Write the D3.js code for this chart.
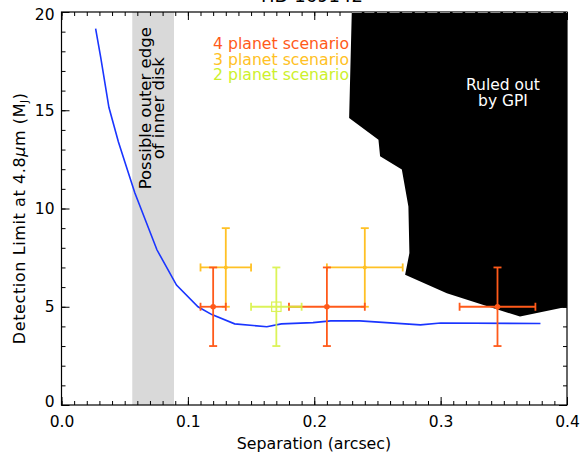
<!DOCTYPE html>
<html>
<head>
<meta charset="utf-8">
<script src="https://cdn.jsdelivr.net/npm/d3@7"></script>
<style>
  body { margin: 0; background: #fff; }
  svg text { font-family: "DejaVu Sans", "Liberation Sans", sans-serif; }
</style>
</head>
<body>
<svg id="chart" width="582" height="458"></svg>
<script>
// Detection limit curve (separation in arcsec, mass in M_J)
const limitSep  = [0.027, 0.031, 0.0375, 0.045, 0.0502, 0.058, 0.0755, 0.091, 0.108, 0.119, 0.137, 0.1625, 0.174, 0.199, 0.213, 0.236, 0.284, 0.300, 0.379];
const limitMass = [19.15, 17.7, 15.15, 13.4, 12.35, 10.8, 7.9, 6.1, 5.0, 4.6, 4.13, 3.98, 4.13, 4.19, 4.28, 4.28, 4.08, 4.17, 4.15];

// Region excluded by GPI (outline, clockwise from top-left)
const gpiSep  = [0.2297, 0.2276, 0.2508, 0.2521, 0.2693, 0.2745, 0.2753, 0.2719, 0.3049, 0.3628, 0.4, 0.4];
const gpiMass = [20, 14.6, 13.5, 12.66, 11.98, 10.1, 7.73, 6.63, 5.69, 4.5, 5.0, 20];

// Planet scenarios
const p4Sep = [0.12, 0.21, 0.345], p4SepErr = [0.01, 0.03, 0.03], p4Mass = [5, 5, 5], p4MassErr = [2, 2, 2];
const p3Sep = [0.13, 0.24],        p3SepErr = [0.02, 0.03],       p3Mass = [7, 7],    p3MassErr = [2, 2];
const p2Sep = [0.17],              p2SepErr = [0.02],             p2Mass = [5],       p2MassErr = [2];

// Inner disk outer edge band
const diskEdge = [0.056, 0.089];

const xTicks = [0, 0.1, 0.2, 0.3, 0.4];
const xTickLabels = ["0.0", "0.1", "0.2", "0.3", "0.4"];
const yTicks = [0, 5, 10, 15, 20];
const yTickLabels = ["0", "5", "10", "15", "20"];

const scenarioLabels = ["4 planet scenario", "3 planet scenario", "2 planet scenario"];
const scenarioColors = ["#ff5a1a", "#ffc125", "#cdf02c"];

const svg = d3.select("#chart");
const x = d3.scaleLinear().domain([0, 0.4]).range([61.5, 567]);
const y = d3.scaleLinear().domain([0, 20]).range([405, 12]);

// title (sits mostly above the canvas)
svg.append("text").attr("x", 312).attr("y", 1.5).attr("text-anchor", "middle")
  .attr("font-size", 18).attr("fill", "#000").text("HD 169142");

// shaded band
svg.append("rect")
  .attr("x", x(diskEdge[0])).attr("y", y(20))
  .attr("width", x(diskEdge[1]) - x(diskEdge[0])).attr("height", y(0) - y(20))
  .attr("fill", "#d9d9d9");

const bandText = svg.append("text")
  .attr("transform", `translate(${(x(diskEdge[0]) + x(diskEdge[1])) / 2 - 1},${y(15.1)}) rotate(-90)`)
  .attr("text-anchor", "middle").attr("font-size", 16.5).attr("fill", "#000");
bandText.append("tspan").attr("x", 0).attr("dy", -1).text("Possible outer edge");
bandText.append("tspan").attr("x", 0).attr("dy", 13).text("of inner disk");

// detection limit curve
svg.append("path")
  .datum(d3.zip(limitSep, limitMass))
  .attr("fill", "none").attr("stroke", "#1a35ff").attr("stroke-width", 1.6)
  .attr("d", d3.line().x(d => x(d[0])).y(d => y(d[1])));

// legend (partly covered by the excluded region)
svg.append("g").selectAll("text").data(scenarioLabels).join("text")
  .attr("x", 213).attr("y", (d, i) => 49 + i * 15.5)
  .attr("font-size", 15.7).attr("fill", (d, i) => scenarioColors[i])
  .text(d => d);

// excluded region
svg.append("path")
  .datum(d3.zip(gpiSep, gpiMass))
  .attr("fill", "#000")
  .attr("d", d3.line().x(d => x(d[0])).y(d => y(d[1])).curve(d3.curveLinearClosed));

const ruled = svg.append("text").attr("text-anchor", "middle").attr("font-size", 15.5).attr("fill", "#fff");
ruled.append("tspan").attr("x", 503).attr("y", 90).text("Ruled out");
ruled.append("tspan").attr("x", 503).attr("y", 106).text("by GPI");

// error bars
function errorBars(sep, sepErr, mass, massErr, color, marker, opacity) {
  const g = svg.append("g").attr("stroke", color).attr("stroke-width", 1.8).attr("fill", "none").attr("opacity", opacity);
  sep.forEach((s, i) => {
    const cx = x(s), cy = y(mass[i]);
    const x0 = x(s - sepErr[i]), x1 = x(s + sepErr[i]);
    const y0 = y(mass[i] - massErr[i]), y1 = y(mass[i] + massErr[i]);
    g.append("line").attr("x1", x0).attr("x2", x1).attr("y1", cy).attr("y2", cy);
    g.append("line").attr("x1", cx).attr("x2", cx).attr("y1", y0).attr("y2", y1);
    g.append("line").attr("x1", x0).attr("x2", x0).attr("y1", cy - 4).attr("y2", cy + 4);
    g.append("line").attr("x1", x1).attr("x2", x1).attr("y1", cy - 4).attr("y2", cy + 4);
    g.append("line").attr("x1", cx - 4).attr("x2", cx + 4).attr("y1", y0).attr("y2", y0);
    g.append("line").attr("x1", cx - 4).attr("x2", cx + 4).attr("y1", y1).attr("y2", y1);
    if (marker === "dot") {
      g.append("circle").attr("cx", cx).attr("cy", cy).attr("r", 2.8).attr("fill", color).attr("stroke", "none");
    } else if (marker === "small") {
      g.append("circle").attr("cx", cx).attr("cy", cy).attr("r", 2).attr("fill", color).attr("stroke", "none");
    } else {
      g.append("rect").attr("x", cx - 4.7).attr("y", cy - 4.7).attr("width", 9.4).attr("height", 9.4)
        .attr("stroke-width", 1.2);
    }
  });
}
errorBars(p3Sep, p3SepErr, p3Mass, p3MassErr, scenarioColors[1], "small", 1);
errorBars(p4Sep, p4SepErr, p4Mass, p4MassErr, scenarioColors[0], "dot", 1);
errorBars(p2Sep, p2SepErr, p2Mass, p2MassErr, "#d6f23c", "square", 0.85);

// axes: major and minor ticks pointing inward on all four sides
const h = y(0) - y(20), w = x(0.4) - x(0);
function addAxis(axis, tx, ty) {
  const g = svg.append("g").attr("transform", `translate(${tx},${ty})`).call(axis);
  g.select(".domain").remove();
  g.selectAll("text").attr("font-size", 15.5).attr("fill", "#000").attr("font-family", "DejaVu Sans, sans-serif");
  g.selectAll("line").attr("stroke", "#000");
  return g;
}
addAxis(d3.axisBottom(x).tickValues(x.ticks(40)).tickSize(-4).tickFormat(""), 0, y(0));
addAxis(d3.axisBottom(x).tickValues(xTicks).tickSize(-8).tickPadding(11).tickFormat((d, i) => xTickLabels[i]), 0, y(0));
addAxis(d3.axisTop(x).tickValues(x.ticks(40)).tickSize(-4).tickFormat(""), 0, y(20));
addAxis(d3.axisTop(x).tickValues(xTicks).tickSize(-8).tickFormat(""), 0, y(20));
addAxis(d3.axisLeft(y).tickValues(y.ticks(20)).tickSize(-4).tickFormat(""), x(0), 0);
const yAxisG = addAxis(d3.axisLeft(y).tickValues(yTicks).tickSize(-8).tickPadding(7).tickFormat((d, i) => yTickLabels[i]), x(0), 0);
// end labels sit slightly inside the frame
yAxisG.selectAll("text").attr("y", d => d === 20 ? 3 : d === 0 ? -3 : 0);
addAxis(d3.axisRight(y).tickValues(y.ticks(20)).tickSize(-4).tickFormat(""), x(0.4), 0);
addAxis(d3.axisRight(y).tickValues(yTicks).tickSize(-8).tickFormat(""), x(0.4), 0);

svg.append("rect").attr("x", x(0)).attr("y", y(20)).attr("width", w).attr("height", h)
  .attr("fill", "none").attr("stroke", "#000").attr("stroke-width", 1.2);
// faint frame edge where it crosses the filled region
svg.append("line").attr("x1", x(gpiSep[0])).attr("x2", x(0.4)).attr("y1", y(20) + 0.5).attr("y2", y(20) + 0.5)
  .attr("stroke", "#8a8a8a").attr("stroke-width", 1).attr("stroke-dasharray", "10,2.6");

// axis titles
svg.append("text").attr("x", 314).attr("y", 449).attr("text-anchor", "middle")
  .attr("font-size", 15.8).attr("fill", "#000").text("Separation (arcsec)");

const yl = svg.append("text")
  .attr("transform", `translate(25,${y(9.5)}) rotate(-90)`)
  .attr("text-anchor", "middle").attr("font-size", 16).attr("letter-spacing", 0.6).attr("fill", "#000");
yl.append("tspan").text("Detection Limit at 4.8");
yl.append("tspan").attr("font-style", "italic").text("μ");
yl.append("tspan").text("m (M");
yl.append("tspan").attr("font-size", 10).attr("dy", 3).text("J");
yl.append("tspan").attr("dy", -3).text(")");
</script>
</body>
</html>
